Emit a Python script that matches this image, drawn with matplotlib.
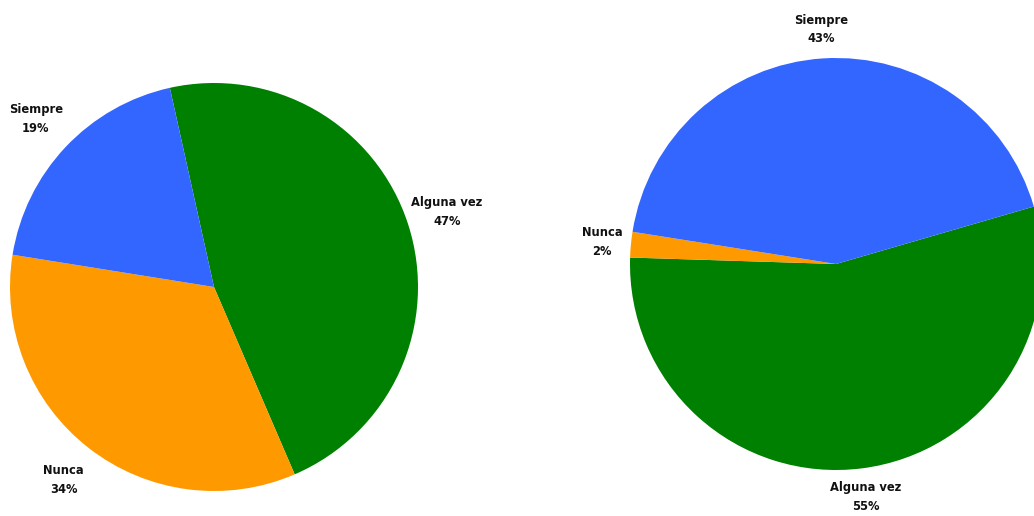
import matplotlib
matplotlib.use('Agg')
import matplotlib.pyplot as plt

# Categories (drawn clockwise in this order) and percentages for both pies
categories = ['Alguna vez', 'Nunca', 'Siempre']
left_values = [47, 34, 19]
right_values = [55, 2, 43]
colors = ['#008000', '#FF9900', '#3366FF']

W, H = 1034, 516
fig = plt.figure(figsize=(W / 100, H / 100), dpi=100)
fig.patch.set_facecolor('white')


def pie_axes(cx, cy, r):
    # pixel centre/radius (top-left origin) -> figure fraction axes
    return fig.add_axes([(cx - r) / W, (H - cy - r) / H, 2 * r / W, 2 * r / H])


def draw(ax, values, start, dist):
    labels = ['%s\n%d%%' % (c, v) for c, v in zip(categories, values)]
    wedges, texts = ax.pie(values, colors=colors, labels=labels, startangle=start,
                           counterclock=False, labeldistance=dist, radius=1,
                           wedgeprops=dict(linewidth=0),
                           textprops=dict(fontsize=8.3, fontweight='bold', color='#111111'))
    for t in texts:
        t.set_horizontalalignment('center')
        t.set_verticalalignment('center')
        t.set_linespacing(1.55)
        t.set_clip_on(False)
    ax.set_xlim(-1, 1)
    ax.set_ylim(-1, 1)
    ax.set_aspect('equal')
    ax.axis('off')


ax1 = pie_axes(214, 287, 204)
draw(ax1, left_values, 102.5, 1.2)

ax2 = pie_axes(836, 264, 206)
draw(ax2, right_values, 16.2, 1.14)

fig.savefig('out.png', dpi=100, facecolor='white')
